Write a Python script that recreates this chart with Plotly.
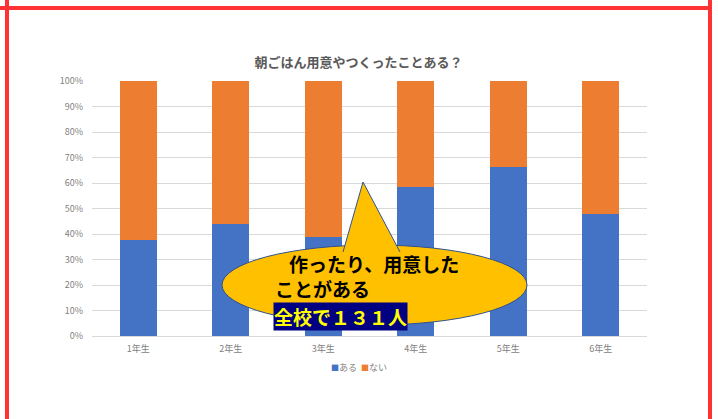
import plotly.graph_objects as go

categories = ["1年生", "2年生", "3年生", "4年生", "5年生", "6年生"]
aru = [37.8, 43.9, 38.9, 58.3, 66.4, 47.8]
nai = [100 - v for v in aru]
series_names = ["ある", "ない"]
series_colors = ["#4472c4", "#ed7d31"]
y_ticks = [0, 10, 20, 30, 40, 50, 60, 70, 80, 90, 100]
y_ticklabels = [f"{v}%" for v in y_ticks]

W, H = 718, 419
L, R, T, B = 92, 647, 81, 336  # plot area in pixels

def px(x):
    return (x - L) / (R - L)

def py(y):
    return (B - y) / (B - T)

JP = "Noto Sans CJK JP"

fig = go.Figure()
fig.add_trace(go.Bar(x=categories, y=aru, name=series_names[0], showlegend=False,
                     marker=dict(color=series_colors[0], line=dict(width=0))))
fig.add_trace(go.Bar(x=categories, y=nai, name=series_names[1], showlegend=False,
                     marker=dict(color=series_colors[1], line=dict(width=0))))

shapes = []
# speech bubble ellipse
shapes.append(dict(type="circle", xref="paper", yref="paper",
                   x0=px(222), x1=px(527), y0=py(325), y1=py(245),
                   fillcolor="#ffc000", line=dict(color="#2f528f", width=1), layer="above"))
# pointer
shapes.append(dict(type="path", xref="paper", yref="paper",
                   path=f"M {px(343)} {py(252)} L {px(363)} {py(182)} L {px(400)} {py(252)}",
                   fillcolor="#ffc000", line=dict(color="#2f528f", width=1), layer="above"))
# red frame lines
red = "#ff3333"
shapes.append(dict(type="line", xref="paper", yref="paper",
                   x0=px(0), x1=px(712), y0=py(8), y1=py(8), line=dict(color=red, width=4), layer="above"))
shapes.append(dict(type="line", xref="paper", yref="paper",
                   x0=px(7), x1=px(7), y0=py(0), y1=py(419), line=dict(color=red, width=4), layer="above"))
shapes.append(dict(type="line", xref="paper", yref="paper",
                   x0=px(710), x1=px(710), y0=py(0), y1=py(419), line=dict(color=red, width=4), layer="above"))

legend_text = "&nbsp;&nbsp;".join(
    f"<span style='color:{c};font-size:8px'>■</span>{n}" for n, c in zip(series_names, series_colors))

annotations = [
    dict(text="作ったり、用意した", xref="paper", yref="paper", x=px(287), y=py(263),
         xanchor="left", yanchor="middle", showarrow=False,
         font=dict(family=JP, size=19, color="#000000", weight="bold")),
    dict(text="ことがある", xref="paper", yref="paper", x=px(273), y=py(288),
         xanchor="left", yanchor="middle", showarrow=False,
         font=dict(family=JP, size=19, color="#000000", weight="bold")),
    dict(text="全校で１３１人", xref="paper", yref="paper", x=px(273), y=py(316),
         xanchor="left", yanchor="middle", showarrow=False, bgcolor="#000080", borderpad=0,
         font=dict(family=JP, size=19, color="#ffff00", weight="bold")),
    dict(text=legend_text, xref="paper", yref="paper", x=px(358.5), y=py(367),
         xanchor="center", yanchor="middle", showarrow=False,
         font=dict(family=JP, size=9, color="#7f7f7f")),
]

fig.update_layout(
    width=W, height=H,
    margin=dict(l=L, r=W - R, t=T, b=H - B, pad=0, autoexpand=False),
    paper_bgcolor="white", plot_bgcolor="white",
    barmode="stack", bargap=0.6, showlegend=False,
    title=dict(text="朝ごはん用意やつくったことある？", x=0.4993, xref="container",
               xanchor="center", y=1 - 62 / H, yref="container", yanchor="middle",
               font=dict(family=JP, size=13, color="#595959", weight="bold")),
    xaxis=dict(showgrid=False, showline=False, ticks="", zeroline=False, automargin=False,
               tickfont=dict(family=JP, size=9, color="#7f7f7f"), ticklabelstandoff=6),
    yaxis=dict(range=[0, 100], tickvals=y_ticks, ticktext=y_ticklabels, automargin=False,
               showgrid=True, gridcolor="#d9d9d9", gridwidth=1, zeroline=True,
               zerolinecolor="#d9d9d9", zerolinewidth=1, showline=False, ticks="",
               tickfont=dict(family=JP, size=9, color="#7f7f7f"), ticklabelstandoff=8),
    shapes=shapes, annotations=annotations,
)

fig.write_html("out.html")
